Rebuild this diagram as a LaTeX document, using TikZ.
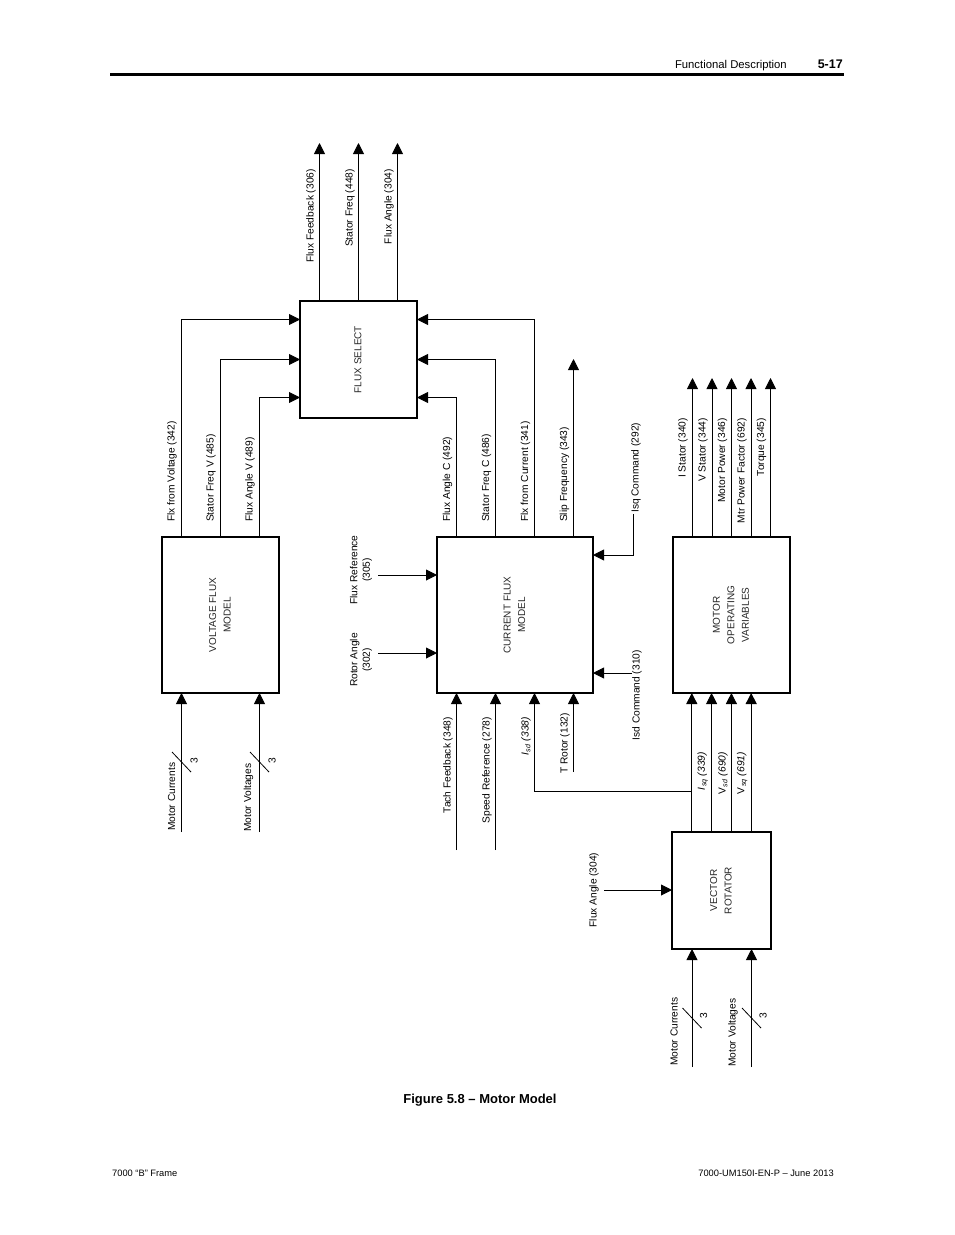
\documentclass[tikz,border=0pt]{standalone}
\usepackage{fontspec}
\setmainfont{Liberation Sans}
\usetikzlibrary{arrows.meta}
\newcommand{\boxtext}[1]{\rotatebox{90}{\begin{tabular}{@{}c@{}}#1\end{tabular}}}
\tikzset{
  blk/.style={draw, line width=1.2pt, inner sep=0pt, outer sep=0pt,
    font=\fontsize{10}{14.5}\selectfont, text=black!85},
  sig/.style={line width=0.9pt, -{Triangle[length=11pt,width=11pt]}},
  tick/.style={line width=0.8pt},
  lbl/.style={font=\fontsize{10.2}{12.5}\selectfont, inner sep=0pt, rotate=90},
}
\begin{document}
\begin{tikzpicture}[x=1pt,y=-1pt] %Motor model, page 5-17
        \useasboundingbox (0,0) rectangle (954,1235);
        \node[font=\fontsize{11.3}{13}\selectfont, anchor=base east, inner sep=0pt] (hdr) at (787,68) {Functional Description};
        \node[font=\bfseries\fontsize{12.5}{14}\selectfont, anchor=base east, inner sep=0pt] (pgno) at (843,68) {5-17};
        \draw[line width=3pt] (110,74.5) -- (844,74.5);
        \node[blk, minimum width=117pt, minimum height=117pt] (fluxsel) at (358.5,359.5) {\boxtext{FLUX SELECT}};
        \node[blk, minimum width=117pt, minimum height=156pt] (vfm) at (220.5,615) {\boxtext{VOLTAGE FLUX\\MODEL}};
        \node[blk, minimum width=156pt, minimum height=156pt] (cfm) at (515,615) {\boxtext{CURRENT FLUX\\MODEL}};
        \node[blk, minimum width=117pt, minimum height=156pt] (mov) at (731.5,615) {\boxtext{MOTOR\\OPERATING\\VARIABLES}};
        \node[blk, minimum width=99pt, minimum height=117pt] (vrot) at (721.5,890.5) {\boxtext{VECTOR\\ROTATOR}};
        \coordinate (ffb) at (319.5,143);
        \coordinate (fsf) at (358.5,143);
        \coordinate (fan) at (397.5,143);
        \coordinate (slip) at (573.5,359);
        \coordinate (fref) at (378,575);
        \coordinate (rang) at (378,653);
        \coordinate (isqc) at (633,514);
        \coordinate (isdc) at (632,673);
        \coordinate (tach) at (456.5,850);
        \coordinate (spdref) at (495.5,850);
        \coordinate (trot) at (573.5,772);
        \coordinate (isdbend) at (534.5,791);
        \coordinate (vcur) at (181.5,832);
        \coordinate (vvolt) at (259.5,832);
        \coordinate (rcur) at (692,1067);
        \coordinate (rvolt) at (751.5,1067);
        \coordinate (rfang) at (604,890);
        \coordinate (vr1) at ([xshift=-29.7pt]vrot.north);
        \coordinate (vr2) at ([xshift=-9.9pt]vrot.north);
        \coordinate (vr3) at ([xshift=9.9pt]vrot.north);
        \coordinate (vr4) at ([xshift=29.7pt]vrot.north);
        \draw[sig] (ffb |- fluxsel.north) -- (ffb);
        \draw[sig] (fsf |- fluxsel.north) -- (fsf);
        \draw[sig] (fan |- fluxsel.north) -- (fan);
        \draw[sig] ([xshift=-39pt]vfm.north) |- ([yshift=40pt]fluxsel.west);
        \draw[sig] (vfm.north) |- (fluxsel.west);
        \draw[sig] ([xshift=39pt]vfm.north) |- ([yshift=-38pt]fluxsel.west);
        \draw[sig] ([xshift=19.5pt]cfm.north) |- ([yshift=40pt]fluxsel.east);
        \draw[sig] ([xshift=-19.5pt]cfm.north) |- (fluxsel.east);
        \draw[sig] ([xshift=-58.5pt]cfm.north) |- ([yshift=-38pt]fluxsel.east);
        \draw[sig] (slip |- cfm.north) -- (slip);
        \draw[sig] (fref) -- (fref -| cfm.west);
        \draw[sig] (rang) -- (rang -| cfm.west);
        \draw[sig] (isqc) |- ([yshift=60pt]cfm.east);
        \draw[sig] (isdc) -- (isdc -| cfm.east);
        \draw[sig] (tach) -- (tach |- cfm.south);
        \draw[sig] (spdref) -- (spdref |- cfm.south);
        \draw[sig] (trot) -- (trot |- cfm.south);
        \draw[sig] (vr1) |- (isdbend) -- (isdbend |- cfm.south);
        \foreach \c in {vr1,vr2,vr3,vr4}
                \draw[sig] (\c) -- (\c |- mov.south);
        \foreach \dx in {-39,-19.5,0,19.5,39}
                \draw[sig] ([xshift=\dx pt]mov.north) -- ++(0,-159);
        \draw[sig] (vcur) -- (vcur |- vfm.south);
        \draw[sig] (vvolt) -- (vvolt |- vfm.south);
        \draw[sig] (rcur) -- (rcur |- vrot.south);
        \draw[sig] (rvolt) -- (rvolt |- vrot.south);
        \draw[sig] (rfang) -- (rfang -| vrot.west);
        \draw[tick] ([shift={(-9.5,-80)}]vcur) -- ++(19,20);
        \draw[tick] ([shift={(-9.5,-80)}]vvolt) -- ++(19,20);
        \draw[tick] ([shift={(-9.5,-59)}]rcur) -- ++(19,20);
        \draw[tick] ([shift={(-9.5,-59)}]rvolt) -- ++(19,20);
        \node[lbl] at ([shift={(12.5,-71.5)}]vcur) {3};
        \node[lbl] at ([shift={(12.5,-71.5)}]vvolt) {3};
        \node[lbl] at ([shift={(11.5,-51)}]rcur) {3};
        \node[lbl] at ([shift={(11.5,-51)}]rvolt) {3};
        \node[lbl, anchor=south east] at (316,169) {Flux Feedback (306)};
        \node[lbl, anchor=south east] at (355,169) {Stator Freq (448)};
        \node[lbl, anchor=south east] at (394,169) {Flux Angle (304)};
        \node[lbl, anchor=south west] at (177,522) {Flx from Voltage (342)};
        \node[lbl, anchor=south west] at (216,522) {Stator Freq V (485)};
        \node[lbl, anchor=south west] at (255,522) {Flux Angle V (489)};
        \node[lbl, anchor=south west] at (452.5,522) {Flux Angle C (492)};
        \node[lbl, anchor=south west] at (491.5,522) {Stator Freq C (486)};
        \node[lbl, anchor=south west] at (530.5,522) {Flx from Current (341)};
        \node[lbl, anchor=south west] at (569.5,522) {Slip Frequency (343)};
        \node[lbl, anchor=west] at (636,513) {Isq Command (292)};
        \node[lbl, anchor=east] at (637,650) {Isd Command (310)};
        \node[lbl, align=center] at (361,570) {Flux Reference\\(305)};
        \node[lbl, align=center] at (361,660) {Rotor Angle\\(302)};
        \node[lbl, anchor=south east] at (453,717) {Tach Feedback (348)};
        \node[lbl, anchor=south east] at (492,717) {Speed Reference (278)};
        \node[lbl, anchor=south east] at (531,717) {\textit{I}\kern1pt\textsubscript{\textit{sd}} \textit{(338)}};
        \node[lbl, anchor=south east] at (570,713) {T Rotor (132)};
        \node[lbl, anchor=south east] at (688,418) {I Stator (340)};
        \node[lbl, anchor=south east] at (708,418) {V Stator (344)};
        \node[lbl, anchor=south east] at (727.5,418) {Motor Power (346)};
        \node[lbl, anchor=south east] at (747,418) {Mtr Power Factor (692)};
        \node[lbl, anchor=south east] at (766.5,418) {Torque (345)};
        \node[lbl, anchor=south east] at (708,752) {\textit{I}\kern1pt\textsubscript{\textit{sq}} \textit{(339)}};
        \node[lbl, anchor=south east] at (728,752) {V\kern1pt\textsubscript{\textit{sd}} \textit{(690)}};
        \node[lbl, anchor=south east] at (747.5,752) {V\kern1pt\textsubscript{\textit{sq}} \textit{(691)}};
        \node[lbl, anchor=south west] at (175.5,831) {Motor Currents};
        \node[lbl, anchor=south west] at (253.5,832) {Motor Voltages};
        \node[lbl, anchor=south] at (599,890) {Flux Angle (304)};
        \node[lbl, anchor=south west] at (678,1066) {Motor Currents};
        \node[lbl, anchor=south west] at (738,1067) {Motor Voltages};
        \node[font=\bfseries\fontsize{13}{15}\selectfont, anchor=base, inner sep=0pt] (cap) at (480,1103) {Figure 5.8 – Motor Model};
        \node[font=\fontsize{9.3}{11}\selectfont, anchor=base west, inner sep=0pt] (ftl) at (112,1176) {7000 “B” Frame};
        \node[font=\fontsize{9.3}{11}\selectfont, anchor=base east, inner sep=0pt] (ftr) at (834,1176) {7000-UM150I-EN-P – June 2013};
\end{tikzpicture}
\end{document}
